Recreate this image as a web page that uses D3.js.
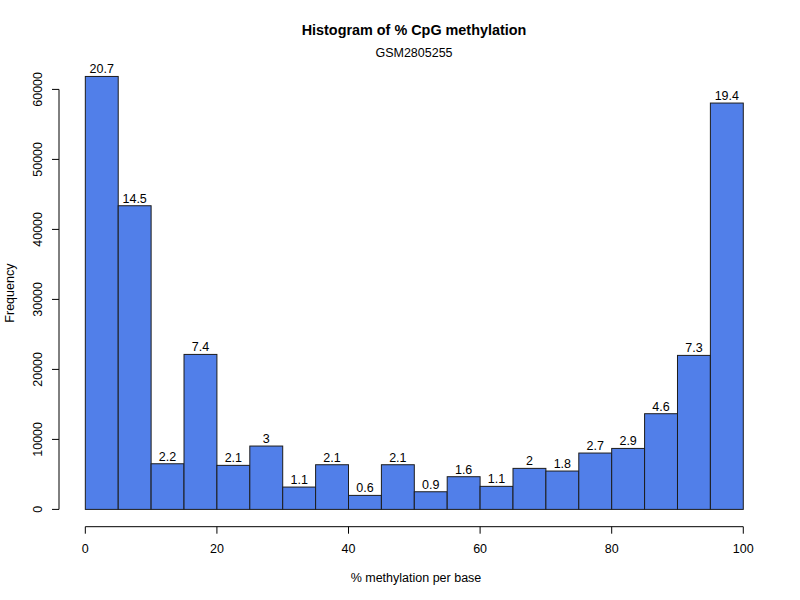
<!DOCTYPE html>
<html>
<head>
<meta charset="utf-8">
<script src="https://cdn.jsdelivr.net/npm/d3@7"></script>
<style>
  body { margin: 0; background: #fff; }
  svg text { font-family: "Liberation Sans", Arial, Helvetica, sans-serif; fill: #000; }
</style>
</head>
<body>
<svg id="chart" width="800" height="600"></svg>
<script>
// bin edges (left side) for 5% wide bins
const binStarts = [0, 5, 10, 15, 20, 25, 30, 35, 40, 45, 50, 55, 60, 65, 70, 75, 80, 85, 90, 95]
const counts = [61850, 43380, 6520, 22140, 6290, 9050, 3190, 6380, 2000, 6380,
  2520, 4670, 3290, 5860, 5480, 8050, 8710, 13670, 22000, 58050]
const pctLabels = ['20.7', '14.5', '2.2', '7.4', '2.1', '3', '1.1', '2.1', '0.6', '2.1',
  '0.9', '1.6', '1.1', '2', '1.8', '2.7', '2.9', '4.6', '7.3', '19.4']
const xTicks = [0, 20, 40, 60, 80, 100]
const yTicks = [0, 10000, 20000, 30000, 40000, 50000, 60000]
const binWidth = 5

const svg = d3.select('#chart')

// plot region like R's default (usr extended by 4%)
const mLeft = 59, mRight = 769.6, mTop = 59.5, mBottom = 526.7

const x = d3.scaleLinear().domain([-4, 104]).range([mLeft, mRight])
const y = d3.scaleLinear().domain([-2472, 64272]).range([mBottom, mTop])

// bars
svg.selectAll('.bar')
  .data(binStarts)
  .join('rect')
  .attr('class', 'bar')
  .attr('x', (d) => x(d))
  .attr('width', (d) => x(d + binWidth) - x(d))
  .attr('y', (d, i) => y(counts[i]))
  .attr('height', (d, i) => y(0) - y(counts[i]))
  .attr('fill', '#517fe9')
  .attr('stroke', '#1c1c1c')
  .attr('stroke-width', 1)

// value labels
svg.selectAll('.lbl')
  .data(binStarts)
  .join('text')
  .attr('class', 'lbl')
  .attr('x', (d) => x(d + binWidth / 2))
  .attr('y', (d, i) => y(counts[i]) - 3)
  .attr('text-anchor', 'middle')
  .style('font-size', '12.5px')
  .text((d, i) => pctLabels[i])

// x axis
const xAxis = svg.append('g').attr('transform', `translate(0,${mBottom})`)
xAxis.append('line')
  .attr('x1', x(0)).attr('x2', x(100))
  .attr('stroke', '#000')
xAxis.selectAll('.xt')
  .data(xTicks)
  .join('line')
  .attr('x1', (d) => x(d)).attr('x2', (d) => x(d))
  .attr('y1', 0).attr('y2', 7)
  .attr('stroke', '#000')
xAxis.selectAll('.xl')
  .data(xTicks)
  .join('text')
  .attr('x', (d) => x(d))
  .attr('y', 26)
  .attr('text-anchor', 'middle')
  .style('font-size', '12.5px')
  .text((d) => d)

// y axis
const yAxis = svg.append('g').attr('transform', `translate(${mLeft},0)`)
yAxis.append('line')
  .attr('y1', y(0)).attr('y2', y(60000))
  .attr('stroke', '#000')
yAxis.selectAll('.yt')
  .data(yTicks)
  .join('line')
  .attr('x1', 0).attr('x2', -7)
  .attr('y1', (d) => y(d)).attr('y2', (d) => y(d))
  .attr('stroke', '#000')
yAxis.selectAll('.yl')
  .data(yTicks)
  .join('text')
  .attr('transform', (d) => `translate(-17,${y(d)}) rotate(-90)`)
  .attr('text-anchor', 'middle')
  .style('font-size', '12.5px')
  .text((d) => d)

// titles
svg.append('text')
  .attr('x', 414).attr('y', 35)
  .attr('text-anchor', 'middle')
  .style('font-size', '14.4px')
  .style('font-weight', 'bold')
  .text('Histogram of % CpG methylation')

svg.append('text')
  .attr('x', 414).attr('y', 57)
  .attr('text-anchor', 'middle')
  .style('font-size', '12.5px')
  .text('GSM2805255')

svg.append('text')
  .attr('x', 416).attr('y', 582)
  .attr('text-anchor', 'middle')
  .style('font-size', '12.5px')
  .text('% methylation per base')

svg.append('text')
  .attr('transform', `translate(14,${(mTop + mBottom) / 2}) rotate(-90)`)
  .attr('text-anchor', 'middle')
  .style('font-size', '12.5px')
  .text('Frequency')
</script>
</body>
</html>
